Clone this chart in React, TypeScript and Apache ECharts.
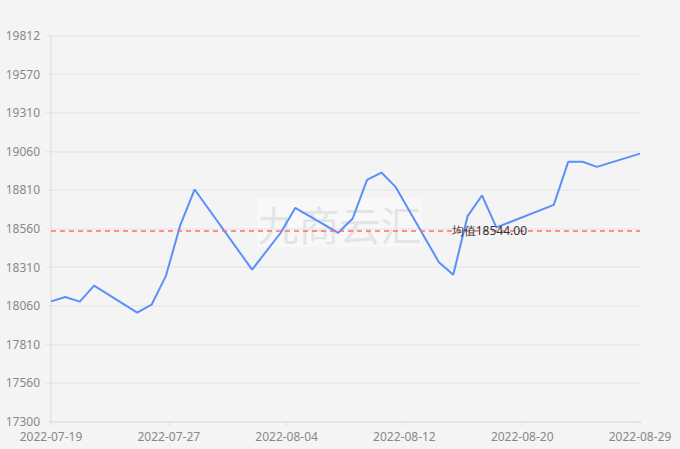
import React, { useEffect, useRef } from "react";
import * as echarts from "echarts";

const startDate = "2022-07-19";
const endDate = "2022-08-29";
const dates = [
  "2022-07-19", "2022-07-20", "2022-07-21", "2022-07-22",
  "2022-07-25", "2022-07-26", "2022-07-27", "2022-07-28", "2022-07-29",
  "2022-08-02", "2022-08-04", "2022-08-05",
  "2022-08-08", "2022-08-09", "2022-08-10", "2022-08-11", "2022-08-12",
  "2022-08-15", "2022-08-16", "2022-08-17", "2022-08-18", "2022-08-19",
  "2022-08-23", "2022-08-24", "2022-08-25", "2022-08-26",
  "2022-08-29",
];
const prices = [
  18082, 18110, 18080, 18184,
  18008, 18060, 18248, 18578, 18810,
  18288, 18530, 18690,
  18528, 18621, 18873, 18920, 18825,
  18337, 18255, 18637, 18771, 18563,
  18710, 18990, 18990, 18957,
  19043,
];
const yLabels = ["17300", "17560", "17810", "18060", "18310", "18560", "18810", "19060", "19310", "19570", "19812"];
const yMin = 17300;
const yMax = 19812;
const watermark = "九商云汇";
const avgPrefix = "均值";

const DAY = 86400000;
const dayIndex = (d: string) => Math.round((Date.parse(d + "T00:00:00Z") - Date.parse(startDate + "T00:00:00Z")) / DAY);
const dayLabel = (i: number) => {
  const t = new Date(Date.parse(startDate + "T00:00:00Z") + Math.floor(i + 1e-6) * DAY);
  return t.toISOString().slice(0, 10);
};

export default function App() {
  const ref = useRef<HTMLDivElement>(null);
  useEffect(() => {
    const chart = echarts.init(ref.current!, null, { renderer: "svg" });
    const xMax = dayIndex(endDate);
    const font = "'Noto Sans', sans-serif";
    chart.setOption({
      animation: false,
      backgroundColor: "#f4f4f4",
      textStyle: { fontFamily: font },
      grid: { left: 51, right: 40, top: 35.5, bottom: 27.5, containLabel: false },
      xAxis: {
        type: "value",
        min: 0,
        max: xMax,
        interval: xMax / 5,
        axisLine: { show: true, lineStyle: { color: "#e3e3e3", width: 1.5 } },
        axisTick: { show: true, length: 4, lineStyle: { color: "#e3e3e3", width: 1.5 } },
        axisLabel: { color: "#888", fontSize: 12, margin: 9, fontFamily: font, formatter: (v: number) => dayLabel(v), showMinLabel: true, showMaxLabel: true },
        splitLine: { show: false },
      },
      yAxis: [
        { type: "value", min: yMin, max: yMax, show: false, splitLine: { show: false } },
        {
          type: "value",
          position: "left",
          min: 0,
          max: yLabels.length - 1,
          interval: 1,
          axisLine: { show: true, lineStyle: { color: "#e3e3e3", width: 1.5 } },
          axisTick: { show: true, length: 5, lineStyle: { color: "#e3e3e3", width: 1 } },
          axisLabel: { color: "#888", fontSize: 12, margin: 11, fontFamily: font, formatter: (v: number) => yLabels[Math.round(v)] ?? "" },
          splitLine: { show: true, lineStyle: { color: "#e9e9e9", width: 1.5 } },
        },
      ],
      series: [
        {
          type: "line",
          yAxisIndex: 0,
          data: dates.map((d, i) => [dayIndex(d), prices[i]]),
          showSymbol: false,
          symbol: "none",
          lineStyle: { color: "#5b8ff9", width: 2 },
          itemStyle: { color: "#5b8ff9" },
          markLine: {
            silent: true,
            symbol: "none",
            lineStyle: { color: "#ff6e6e", type: [5, 4], width: 1.5 },
            label: {
              position: "insideEnd",
              distance: [113, 0],
              color: "#333",
              fontSize: 12,
              fontFamily: font,
              formatter: (p: any) => avgPrefix + Number(p.value).toFixed(2),
            },
            data: [{ type: "average" }],
          },
        },
      ],
      graphic: [
        {
          type: "group",
          left: 257,
          top: 198,
          z: 100,
          children: [
            { type: "rect", shape: { x: 0, y: 0, width: 165, height: 49 }, style: { fill: "rgba(255,255,255,0.35)" } },
            {
              type: "text",
              x: 82.5,
              y: 25,
              style: {
                text: watermark,
                font: "41px 'Noto Sans CJK SC', sans-serif",
                fill: "rgba(190,190,190,0.35)",
                textAlign: "center",
                textVerticalAlign: "middle",
              },
            },
          ],
        },
      ],
    });
    return () => chart.dispose();
  }, []);
  return <div ref={ref} style={{ position: "fixed", left: 0, top: 0, width: 680, height: 449 }} />;
}
